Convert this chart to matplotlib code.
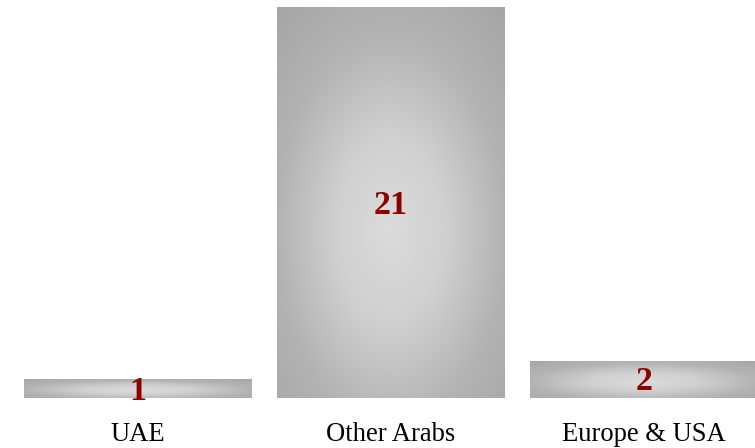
import numpy as np
import matplotlib
matplotlib.use("Agg")
import matplotlib.pyplot as plt
from matplotlib.colors import LinearSegmentedColormap

categories = ["UAE", "Other Arabs", "Europe & USA"]
values = [1, 21, 2]

W, H = 755, 448
fig = plt.figure(figsize=(W / 100, H / 100), dpi=100)
ax = fig.add_axes([0, (H - 398) / H, 1, 391 / H])
ax.set_xlim(-138 / 253, (W - 138) / 253)
ax.set_ylim(0, 21)

bars = ax.bar(range(len(categories)), values, width=0.9, color="none", edgecolor="none")

cmap = LinearSegmentedColormap.from_list(
    "g", [(0.0, "#dbdbdb"), (0.3, "#d0d0d0"), (0.625, "#b3b3b3"), (1.0, "#a3a3a3")])
n = 240
gx, gy = np.meshgrid(np.linspace(0, 1, n), np.linspace(0, 1, n))
for b in bars:
    x0, y0 = b.get_x(), b.get_y()
    w, h = b.get_width(), b.get_height()
    cy = 0.43
    r = np.sqrt(((gx - 0.5) / 0.5) ** 2 + ((gy - cy) / 0.5) ** 2) / 1.6
    r = np.clip(r, 0, 1)
    im = ax.imshow(r, cmap=cmap, vmin=0, vmax=1, extent=[x0, x0 + w, y0, y0 + h],
                   origin="lower", aspect="auto", interpolation="bilinear", zorder=1)
    im.set_clip_path(b)

for i, v in enumerate(values):
    ax.annotate(str(v), xy=(i, v / 2), xytext=(0, -8), textcoords="offset points",
                ha="center", va="baseline", color="#8b0000",
                fontsize=24.5, fontweight="bold", family="Liberation Serif", zorder=3)

ax.set_xticks(range(len(categories)))
ax.set_xticklabels(categories, family="Liberation Serif", fontsize=19.2, color="black")
ax.tick_params(axis="x", length=0, pad=17.5)
ax.set_yticks([])
for s in ax.spines.values():
    s.set_visible(False)
ax.set_facecolor("white")
fig.savefig("out.png", dpi=100)
